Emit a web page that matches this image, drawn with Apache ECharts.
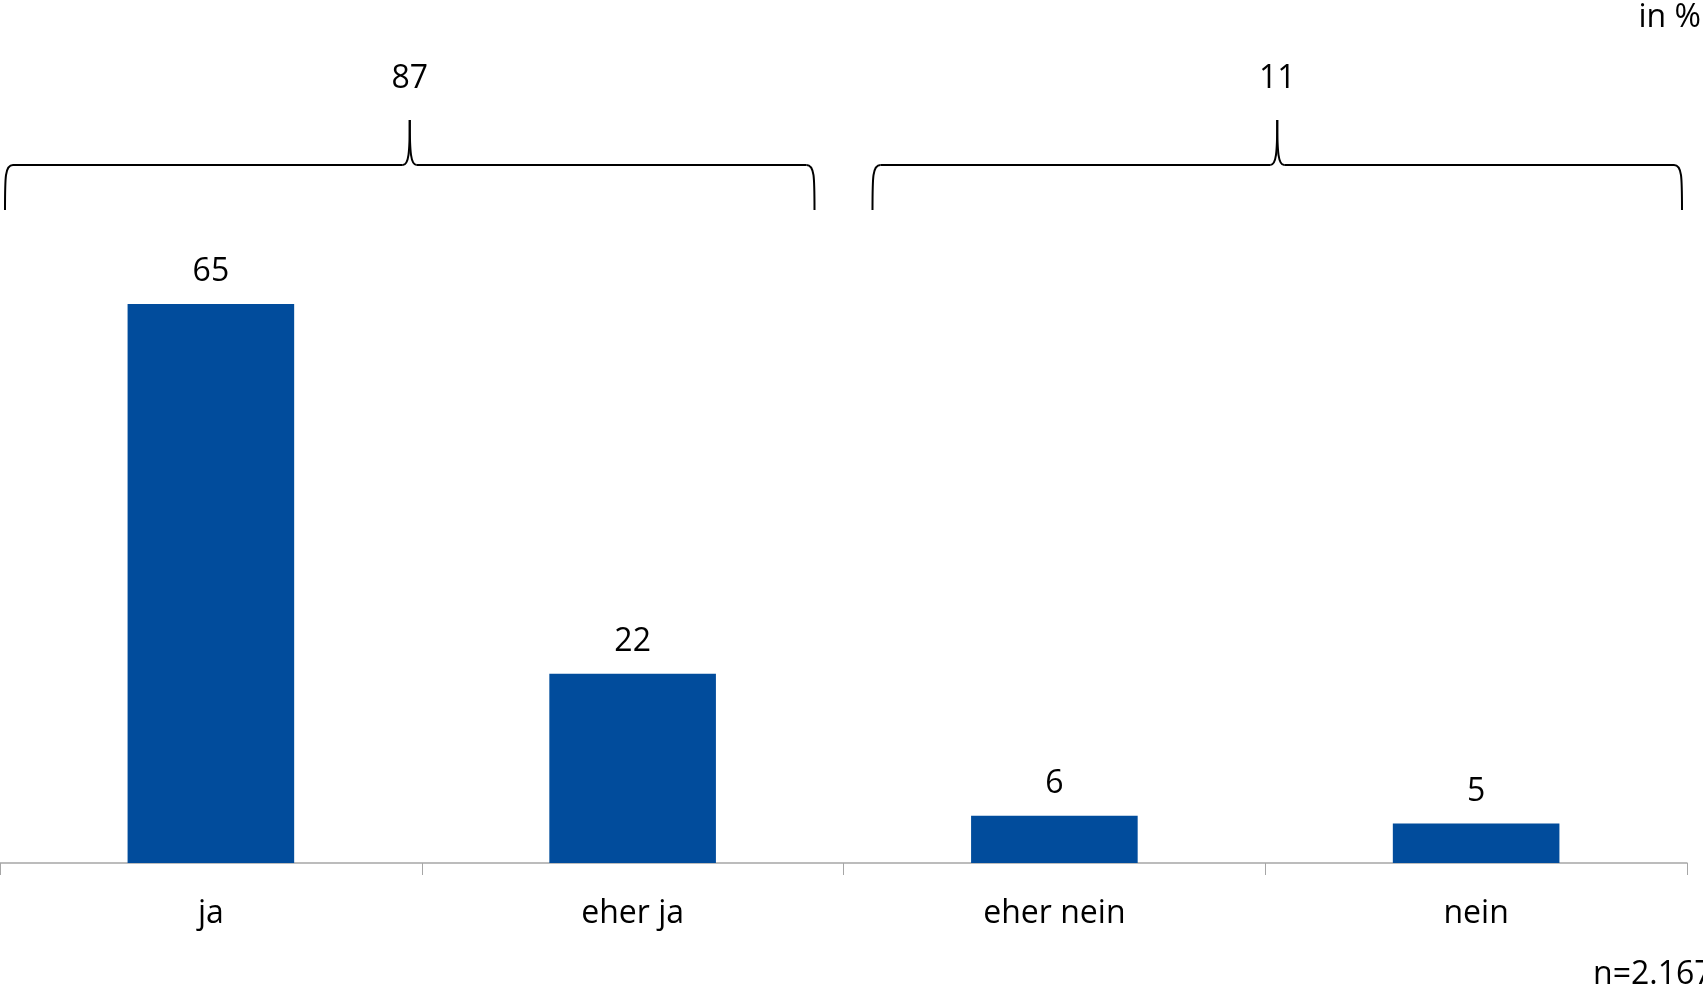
<!DOCTYPE html>
<html>
<head>
<meta charset="utf-8">
<script src="https://cdn.jsdelivr.net/npm/echarts@6/dist/echarts.min.js"></script>
<style>
html,body{margin:0;padding:0;background:#fff;}
#c{width:1703px;height:990px;}
</style>
</head>
<body>
<div id="c"></div>
<script>
// Data
var categories = ['ja', 'eher ja', 'eher nein', 'nein'];
var values = [65, 22, 5.5, 4.6];
var groupLabels = ['87', '11'];
var groupFrom = [0, 2];
var groupTo = [1, 3];
var unitText = 'in %';
var sampleText = 'n=2.167';

var FONT = '"Open Sans", sans-serif';
var chart = echarts.init(document.getElementById('c'), null, {renderer: 'canvas'});

var option = {
  animation: false,
  backgroundColor: '#fff',
  grid: {left: 0, right: 16, top: 261, bottom: 127, containLabel: false},
  xAxis: {
    type: 'category',
    data: categories,
    boundaryGap: true,
    axisLine: {show: true, lineStyle: {color: '#a6a6a6', width: 1.5}},
    axisTick: {show: true, length: 12, lineStyle: {color: '#a6a6a6', width: 1}},
    axisLabel: {color: '#000', fontSize: 32, fontFamily: FONT, margin: 35}
  },
  yAxis: {
    type: 'value', min: 0, max: 70, show: false,
    splitLine: {show: false}
  },
  series: [{
    type: 'bar',
    data: values,
    barWidth: '39.5%',
    itemStyle: {color: '#014C9C'},
    label: {
      show: true, position: 'top', distance: 16,
      color: '#000', fontSize: 32, fontFamily: FONT,
      formatter: function (p) { return Math.round(p.value); }
    }
  }]
};
chart.setOption(option);

function bez(p1, c1, c2, p2) {
  return {
    type: 'bezierCurve',
    shape: {x1: p1[0], y1: p1[1], cpx1: c1[0], cpy1: c1[1], cpx2: c2[0], cpy2: c2[1], x2: p2[0], y2: p2[1]},
    style: {stroke: '#000', lineWidth: 2, fill: null}
  };
}
function seg(p1, p2) {
  return {
    type: 'line',
    shape: {x1: p1[0], y1: p1[1], x2: p2[0], y2: p2[1]},
    style: {stroke: '#000', lineWidth: 2}
  };
}

function buildGraphics() {
  var c0 = chart.convertToPixel({xAxisIndex: 0}, 0);
  var c1 = chart.convertToPixel({xAxisIndex: 0}, 1);
  var bw = c1 - c0;
  var els = [];
  var yb = 210, yh = 165, yt = 120;
  var insetOuter = 5, insetInner = 29;
  for (var g = 0; g < groupLabels.length; g++) {
    var leftB = chart.convertToPixel({xAxisIndex: 0}, groupFrom[g]) - bw / 2;
    var rightB = chart.convertToPixel({xAxisIndex: 0}, groupTo[g]) + bw / 2;
    var x0 = leftB + (groupFrom[g] === 0 ? insetOuter : insetInner);
    var x1 = rightB - (groupTo[g] === categories.length - 1 ? insetOuter : insetInner);
    var xm = (x0 + x1) / 2;
    els.push(bez([x0, yb], [x0, yh + 12], [x0, yh], [x0 + 8, yh]));
    els.push(seg([x0 + 8, yh], [xm - 7, yh]));
    els.push(bez([xm - 7, yh], [xm - 1, yh], [xm, yh - 12], [xm, yt]));
    els.push(bez([xm, yt], [xm, yh - 12], [xm + 1, yh], [xm + 7, yh]));
    els.push(seg([xm + 7, yh], [x1 - 8, yh]));
    els.push(bez([x1 - 8, yh], [x1, yh], [x1, yh + 12], [x1, yb]));
    els.push({
      type: 'text',
      x: xm, y: 79,
      style: {text: groupLabels[g], fill: '#000', font: '32px ' + FONT, align: 'center', verticalAlign: 'middle'}
    });
  }
  els.push({
    type: 'text', x: 1701, y: 18,
    style: {text: unitText, fill: '#000', font: '32px ' + FONT, align: 'right', verticalAlign: 'middle'}
  });
  els.push({
    type: 'text', x: 1593, y: 975,
    style: {text: sampleText, fill: '#000', font: '32px ' + FONT, align: 'left', verticalAlign: 'middle'}
  });
  chart.setOption({graphic: {elements: els}});
}
buildGraphics();
</script>
</body>
</html>
